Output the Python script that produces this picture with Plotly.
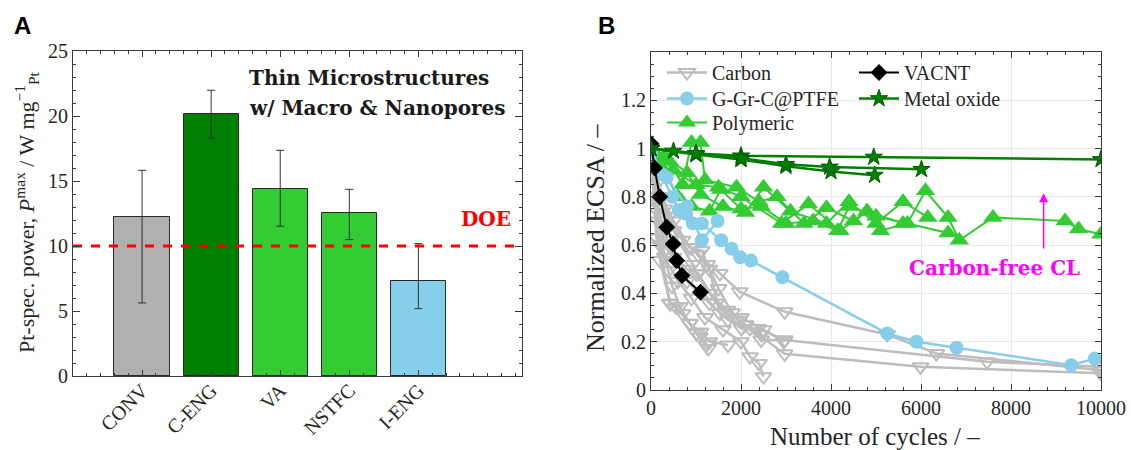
import plotly.graph_objects as go

# ---------------- Panel A data ----------------
categories = ["CONV", "C-ENG", "VA", "NSTFC", "I-ENG"]
cat_pos = [1, 2, 3, 4, 5]
bar_values = [12.23, 20.13, 14.42, 12.57, 7.28]
err_upper = [15.82, 21.98, 17.36, 14.36, 10.18]
err_lower = [5.62, 18.31, 11.52, 10.49, 5.18]
bar_colors = ["#b0b0b0", "#007f00", "#33cc33", "#33cc33", "#87ceeb"]
doe_value = 10
a_yticks = [0, 5, 10, 15, 20, 25]

# ---------------- Panel B data ----------------
carbon1_x = [0, 150, 400, 700, 1050, 1530, 1970, 2970, 5250, 6340, 10000]
carbon1_y = [1.0, 0.86, 0.72, 0.62, 0.56, 0.483, 0.407, 0.324, 0.23, 0.151, 0.082]
carbon2_x = [0, 100, 400, 800, 1300, 1710, 2200, 2970, 5990, 10000]
carbon2_y = [1.0, 0.78, 0.6, 0.45, 0.36, 0.29, 0.255, 0.15, 0.096, 0.069]
carbon3_x = [0, 200, 500, 900, 1300, 1530, 2010, 2380, 2970, 7470, 10000]
carbon3_y = [1.0, 0.8, 0.66, 0.59, 0.5, 0.317, 0.255, 0.255, 0.207, 0.117, 0.096]
carbon4_x = [0, 100, 200, 420, 640, 865, 1086, 1271]
carbon4_y = [1.0, 0.75, 0.6, 0.36, 0.345, 0.276, 0.22, 0.172]
carbon5_x = [0, 150, 300, 500, 800, 1050, 1450, 1970, 2450, 2970]
carbon5_y = [1.0, 0.7, 0.62, 0.55, 0.5, 0.483, 0.36, 0.29, 0.207, 0.207]
carbon6_x = [0, 300, 600, 900, 1200, 1600, 2000, 2200, 2400, 2500]
carbon6_y = [1.0, 0.55, 0.45, 0.38, 0.3, 0.25, 0.2, 0.138, 0.11, 0.055]
carbon7_x = [0, 120, 230, 390, 470, 700, 860, 1010, 1245]
carbon7_y = [1.0, 0.63, 0.605, 0.495, 0.43, 0.316, 0.275, 0.234, 0.19]
carbon8_x = [0, 80, 200, 430, 550, 860, 1100, 1300, 1710]
carbon8_y = [1.0, 0.8, 0.536, 0.357, 0.344, 0.275, 0.24, 0.2, 0.186]
carbon9_x = [0, 250, 500, 860, 1130, 1250, 1500, 1800, 2100, 2450]
carbon9_y = [1.0, 0.8, 0.7, 0.59, 0.577, 0.52, 0.42, 0.32, 0.27, 0.23]
carbon10_x = [0, 300, 600, 930, 1010, 1300, 1700, 2000, 2500, 2950]
carbon10_y = [1.0, 0.75, 0.62, 0.52, 0.48, 0.4, 0.33, 0.3, 0.25, 0.2]

poly1_x = [0, 500, 1000, 1500, 2000, 2900, 3500, 4200, 4800, 5100, 5700, 6100, 6600, 6850, 7600, 9200, 9500, 10000]
poly1_y = [1.0, 0.91, 0.85, 0.84, 0.80, 0.69, 0.77, 0.66, 0.74, 0.66, 0.69, 0.825, 0.715, 0.62, 0.715, 0.70, 0.667, 0.645]
poly2_x = [0, 300, 800, 1100, 1600, 2100, 2500, 3100, 3900, 4400, 5000, 5600, 6150]
poly2_y = [1.0, 0.97, 0.90, 0.81, 0.76, 0.735, 0.84, 0.74, 0.69, 0.78, 0.69, 0.78, 0.715]
poly3_x = [0, 400, 700, 900, 1100, 1200, 1900, 2400, 2800, 3400, 3900, 4500, 4800, 5600]
poly3_y = [1.0, 0.95, 0.85, 1.025, 1.025, 0.87, 0.84, 0.78, 0.80, 0.69, 0.755, 0.70, 0.74, 0.69]
poly4_x = [0, 200, 600, 900, 1300, 1550, 2000, 2450, 3000, 3600, 4150, 4400, 5000, 6600]
poly4_y = [1.0, 0.93, 0.80, 0.76, 0.74, 0.83, 0.75, 0.76, 0.69, 0.70, 0.66, 0.76, 0.72, 0.65]

ptfe1_x = [0, 230, 470, 620, 780, 930, 1130, 1560, 1790, 1980, 2220, 2920, 5250, 5900, 6790, 9340, 9860]
ptfe1_y = [1.0, 0.895, 0.80, 0.745, 0.73, 0.69, 0.69, 0.62, 0.585, 0.55, 0.536, 0.467, 0.234, 0.20, 0.175, 0.103, 0.13]
ptfe2_x = [0, 350, 800, 1130, 1480]
ptfe2_y = [0.98, 0.88, 0.76, 0.62, 0.70]

vacnt_x = [0, 80, 195, 350, 490, 570, 690, 1100]
vacnt_y = [1.02, 0.92, 0.80, 0.674, 0.605, 0.536, 0.474, 0.405]

metal1_x = [0, 500, 1000, 2000, 4950, 10000]
metal1_y = [1.0, 0.99, 0.98, 0.97, 0.965, 0.955]
metal2_x = [0, 1000, 2000, 3000, 4000, 4970]
metal2_y = [1.0, 0.975, 0.955, 0.927, 0.905, 0.89]
metal3_x = [0, 1000, 2000, 3000, 3970, 6010]
metal3_y = [1.0, 0.98, 0.96, 0.935, 0.924, 0.914]

b_yticks = [0, 0.2, 0.4, 0.6, 0.8, 1.0, 1.2]
b_yticktext = ["0", "0.2", "0.4", "0.6", "0.8", "1", "1.2"]
b_xticks = [0, 2000, 4000, 6000, 8000, 10000]
b_xticktext = ["0", "2000", "4000", "6000", "8000", "10000"]

SERIF = "Liberation Serif"
BOLDSERIF = "DejaVu Serif"
AXC = "#3a3a3a"
TXT = "#262626"
W, H = 1131, 450

def px_x(p):
    return p / W

def px_y(p):
    return 1 - p / H

fig = go.Figure()

# Panel A bars
fig.add_trace(go.Bar(
    x=cat_pos, y=bar_values, width=0.8,
    marker=dict(color=bar_colors, line=dict(color="#2a2a2a", width=1)),
    error_y=dict(type="data", symmetric=False,
                 array=[u - v for u, v in zip(err_upper, bar_values)],
                 arrayminus=[v - l for v, l in zip(bar_values, err_lower)],
                 color="#333333", thickness=1, width=4),
    xaxis="x", yaxis="y", showlegend=False))

fig.add_trace(go.Scatter(
    x=[0, 6.5], y=[doe_value, doe_value], mode="lines",
    line=dict(color="#ff0000", width=3, dash="dash"),
    xaxis="x", yaxis="y", showlegend=False))

# Panel B
GRAY = "#bdbdbd"
BLUE = "#87ceeb"
LIME = "#33cc33"
DKG = "#007f00"

carbon_sets = [(carbon1_x, carbon1_y), (carbon2_x, carbon2_y), (carbon3_x, carbon3_y),
               (carbon4_x, carbon4_y), (carbon5_x, carbon5_y), (carbon6_x, carbon6_y),
               (carbon7_x, carbon7_y), (carbon8_x, carbon8_y), (carbon9_x, carbon9_y),
               (carbon10_x, carbon10_y)]
for i, (xs, ys) in enumerate(carbon_sets):
    fig.add_trace(go.Scatter(
        x=xs, y=ys, mode="lines+markers", name="Carbon",
        line=dict(color=GRAY, width=2.5),
        marker=dict(symbol="triangle-down-open", size=14, color=GRAY, line=dict(width=2, color=GRAY)),
        xaxis="x2", yaxis="y2", legend="legend", legendgroup="carbon",
        showlegend=(i == 0)))

poly_sets = [(poly1_x, poly1_y), (poly2_x, poly2_y), (poly3_x, poly3_y), (poly4_x, poly4_y)]
for i, (xs, ys) in enumerate(poly_sets):
    fig.add_trace(go.Scatter(
        x=xs, y=ys, mode="lines+markers", name="Polymeric",
        line=dict(color=LIME, width=2),
        marker=dict(symbol="triangle-up", size=17, color=LIME),
        xaxis="x2", yaxis="y2", legend="legend3", legendgroup="poly",
        showlegend=(i == 0)))

ptfe_sets = [(ptfe1_x, ptfe1_y), (ptfe2_x, ptfe2_y)]
for i, (xs, ys) in enumerate(ptfe_sets):
    fig.add_trace(go.Scatter(
        x=xs, y=ys, mode="lines+markers", name="G-Gr-C@PTFE",
        line=dict(color=BLUE, width=2.5),
        marker=dict(symbol="circle", size=14, color=BLUE),
        xaxis="x2", yaxis="y2", legend="legend2", legendgroup="ptfe",
        showlegend=(i == 0)))

fig.add_trace(go.Scatter(
    x=vacnt_x, y=vacnt_y, mode="lines+markers", name="VACNT",
    line=dict(color="black", width=2),
    marker=dict(symbol="diamond", size=13, color="black"),
    xaxis="x2", yaxis="y2", legend="legend4"))

metal_sets = [(metal1_x, metal1_y), (metal2_x, metal2_y), (metal3_x, metal3_y)]
for i, (xs, ys) in enumerate(metal_sets):
    fig.add_trace(go.Scatter(
        x=xs, y=ys, mode="lines+markers", name="Metal oxide",
        line=dict(color=DKG, width=2.5),
        marker=dict(symbol="star", size=13, color=DKG, line=dict(width=1, color="#005a00")),
        xaxis="x2", yaxis="y2", legend="legend5", legendgroup="metal",
        showlegend=(i == 0)))

axis_common = dict(showline=True, linecolor=AXC, linewidth=1, mirror="allticks",
                   ticks="inside", tickcolor=AXC, zeroline=False, automargin=False,
                   tickfont=dict(family=SERIF, size=20, color=TXT))

legend_common = dict(xanchor="left", yanchor="top", bgcolor="rgba(0,0,0,0)",
                     font=dict(family=SERIF, size=20, color=TXT),
                     tracegroupgap=0, itemwidth=40)

fig.update_layout(
    width=W, height=H, margin=dict(l=0, r=0, t=0, b=0),
    paper_bgcolor="white", plot_bgcolor="white",
    font=dict(family=SERIF, color=TXT),
    bargap=0,
    xaxis=dict(domain=[px_x(73), px_x(522)], range=[0, 6.5],
               tickvals=cat_pos, ticktext=categories, tickangle=-45, ticklen=6,
               ticklabelstandoff=-6,
               minor=dict(dtick=0.2, ticks="inside", ticklen=3, tickcolor=AXC),
               showgrid=False, anchor="y", **axis_common),
    yaxis=dict(domain=[px_y(376), px_y(51)], range=[0, 25], tickvals=a_yticks, ticklen=7,
               minor=dict(dtick=1, ticks="inside", ticklen=3, tickcolor=AXC),
               showgrid=False, anchor="x", **axis_common),
    xaxis2=dict(domain=[px_x(651), px_x(1101)], range=[0, 10000], tickvals=b_xticks,
                ticktext=b_xticktext, ticklen=6, ticklabeloverflow="allow",
                minor=dict(dtick=400, ticks="inside", ticklen=3, tickcolor=AXC),
                showgrid=True, gridcolor="#e8e8e8", gridwidth=1, anchor="y2", **axis_common),
    yaxis2=dict(domain=[px_y(390), px_y(52)], range=[0, 1.4], tickvals=b_yticks,
                ticktext=b_yticktext, ticklen=6,
                minor=dict(dtick=0.05, ticks="inside", ticklen=3, tickcolor=AXC),
                showgrid=True, gridcolor="#e8e8e8", gridwidth=1, anchor="x2", **axis_common),
    legend=dict(x=px_x(662), y=px_y(53), **legend_common),
    legend2=dict(x=px_x(662), y=px_y(79), **legend_common),
    legend3=dict(x=px_x(662), y=px_y(103), **legend_common),
    legend4=dict(x=px_x(854), y=px_y(53), **legend_common),
    legend5=dict(x=px_x(854), y=px_y(79), **legend_common),
)

annotations = [
    dict(text="<b>A</b>", x=px_x(12), y=px_y(25), xref="paper", yref="paper",
         xanchor="left", yanchor="middle", showarrow=False,
         font=dict(family="Liberation Sans", size=24, color="black")),
    dict(text="<b>B</b>", x=px_x(596), y=px_y(25), xref="paper", yref="paper",
         xanchor="left", yanchor="middle", showarrow=False,
         font=dict(family="Liberation Sans", size=24, color="black")),
    dict(text="Pt-spec. power, <i>P</i><sup>max</sup> / W mg<sup>−1</sup><sub>Pt</sub>",
         x=px_x(26), y=px_y(213), xref="paper", yref="paper", textangle=-90,
         xanchor="center", yanchor="middle", showarrow=False,
         font=dict(family=SERIF, size=22, color=TXT)),
    dict(text="Normalized ECSA / –",
         x=px_x(596), y=px_y(238), xref="paper", yref="paper", textangle=-90,
         xanchor="center", yanchor="middle", showarrow=False,
         font=dict(family=SERIF, size=26, color=TXT)),
    dict(text="Number of cycles / –",
         x=px_x(875), y=px_y(436), xref="paper", yref="paper",
         xanchor="center", yanchor="middle", showarrow=False,
         font=dict(family=SERIF, size=25, color=TXT)),
    dict(text="<b>Thin Microstructures</b>", x=2.52, y=22.96, xref="x", yref="y",
         xanchor="left", yanchor="middle", showarrow=False,
         font=dict(family=BOLDSERIF, size=20, color="#1a1a1a")),
    dict(text="<b>w/ Macro &amp; Nanopores</b>", x=2.52, y=20.6, xref="x", yref="y",
         xanchor="left", yanchor="middle", showarrow=False,
         font=dict(family=BOLDSERIF, size=20, color="#1a1a1a")),
    dict(text="<b>DOE</b>", x=6.37, y=12.1, xref="x", yref="y",
         xanchor="right", yanchor="middle", showarrow=False,
         font=dict(family=BOLDSERIF, size=20, color="#ff0000")),
    dict(text="<b>Carbon-free CL</b>", x=7630, y=0.507, xref="x2", yref="y2",
         xanchor="center", yanchor="middle", showarrow=False,
         font=dict(family=BOLDSERIF, size=20, color="#ff00ff")),
    dict(text="", x=8725, y=0.815, ax=8725, ay=0.58, xref="x2", yref="y2",
         axref="x2", ayref="y2", showarrow=True, arrowhead=2, arrowsize=1.2,
         arrowwidth=1.5, arrowcolor="#ff00ff"),
]
fig.update_layout(annotations=annotations)

fig.write_html("out.html", config={"displayModeBar": False},
               post_script="document.body.style.margin='0px';")
